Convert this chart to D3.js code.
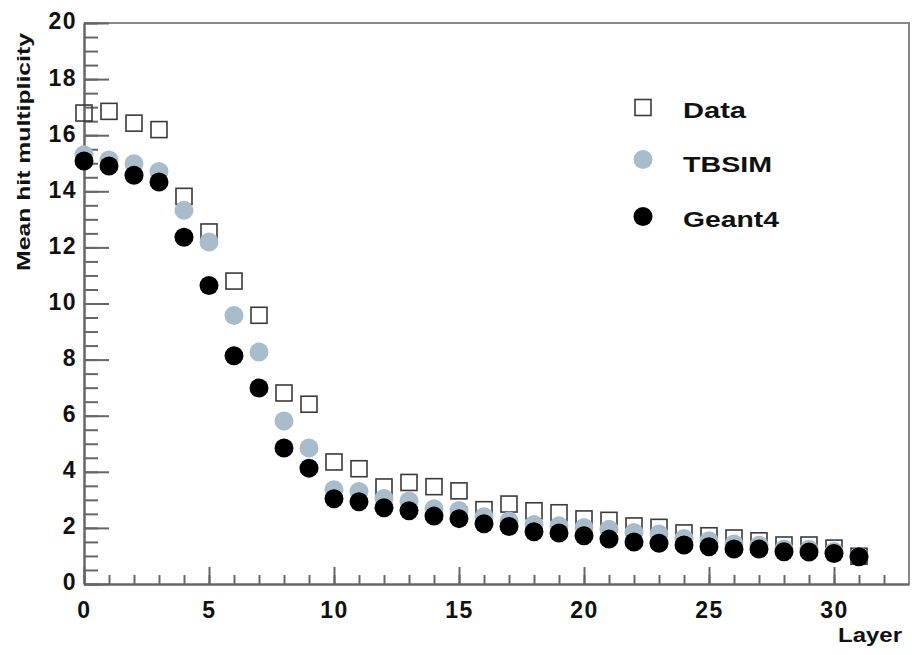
<!DOCTYPE html>
<html>
<head>
<meta charset="utf-8">
<script src="https://cdn.jsdelivr.net/npm/d3@7/dist/d3.min.js"></script>
<style>
  html, body { margin: 0; padding: 0; background: #fff; }
  svg { display: block; }
  .tick text { font-family: "Liberation Sans", Arial, Helvetica, sans-serif; font-weight: bold; }
</style>
</head>
<body>
<svg id="chart" width="912" height="655"></svg>
<script>
// Layer index 0..31
const layers = d3.range(32);

// Mean hit multiplicity per layer
const dataValues = [16.79, 16.85, 16.43, 16.20, 13.82, 12.55, 10.80, 9.58, 6.81, 6.41,
  4.35, 4.11, 3.46, 3.62, 3.47, 3.32, 2.65, 2.85, 2.61, 2.54,
  2.32, 2.27, 2.07, 2.02, 1.82, 1.72, 1.64, 1.54, 1.39, 1.39, 1.28, 0.99];

const tbsimValues = [15.30, 15.12, 14.98, 14.71, 13.32, 12.19, 9.57, 8.27, 5.81, 4.85,
  3.36, 3.30, 3.05, 2.96, 2.68, 2.62, 2.40, 2.25, 2.12, 2.08,
  2.01, 1.95, 1.84, 1.78, 1.62, 1.54, 1.43, 1.38, 1.25, 1.24, 1.16, 0.99];

const geant4Values = [15.08, 14.90, 14.57, 14.33, 12.36, 10.64, 8.14, 6.99, 4.85, 4.13,
  3.04, 2.93, 2.72, 2.61, 2.42, 2.33, 2.15, 2.05, 1.86, 1.82,
  1.72, 1.60, 1.50, 1.45, 1.39, 1.33, 1.25, 1.25, 1.15, 1.14, 1.09, 0.97];

const seriesNames = ["Data", "TBSIM", "Geant4"];

const xMajorTicks = [0, 5, 10, 15, 20, 25, 30];
const xMinorTicks = d3.range(0, 33, 1);
const yMajorTicks = [0, 2, 4, 6, 8, 10, 12, 14, 16, 18, 20];
const yMinorTicks = d3.range(0, 20.01, 0.5);

const svg = d3.select("#chart");
const frame = { left: 84, right: 909, top: 23, bottom: 584 };

const x = d3.scaleLinear().domain([0, 33]).range([frame.left, frame.right]);
const y = d3.scaleLinear().domain([0, 20]).range([frame.bottom, frame.top]);

const axisColor = "#666";
const fontFam = '"Liberation Sans", Arial, Helvetica, sans-serif';

// Frame: top and right edges
svg.append("path")
  .attr("d", `M${frame.left},${frame.top}H${frame.right}V${frame.bottom}`)
  .attr("fill", "none")
  .attr("stroke", "#888")
  .attr("stroke-width", 2);

// Y axis minor ticks
const yMinor = svg.append("g")
  .attr("transform", `translate(${frame.left},0)`)
  .call(d3.axisLeft(y).tickValues(yMinorTicks).tickSize(-14).tickSizeOuter(0).tickFormat(""));
// Y axis major ticks with labels
const yMajor = svg.append("g")
  .attr("transform", `translate(${frame.left},0)`)
  .call(d3.axisLeft(y).tickValues(yMajorTicks).tickSize(-25).tickSizeOuter(0).tickPadding(7));

// X axis minor ticks
const xMinor = svg.append("g")
  .attr("transform", `translate(0,${frame.bottom})`)
  .call(d3.axisBottom(x).tickValues(xMinorTicks).tickSize(-9).tickSizeOuter(0).tickFormat(""));
// X axis major ticks with labels
const xMajor = svg.append("g")
  .attr("transform", `translate(0,${frame.bottom})`)
  .call(d3.axisBottom(x).tickValues(xMajorTicks).tickSize(-17).tickSizeOuter(0).tickPadding(18));

[yMinor, yMajor, xMinor, xMajor].forEach(g => {
  g.selectAll(".domain").attr("stroke", axisColor).attr("stroke-width", 2);
  g.selectAll(".tick line").attr("stroke", axisColor).attr("stroke-width", 2);
});
[yMajor, xMajor].forEach(g => {
  g.selectAll(".tick text")
    .attr("fill", "#111")
    .style("font-size", "23px")
    .style("letter-spacing", "1.5px");
});
yMajor.selectAll(".tick text").attr("dy", "0.26em");

// Axis titles
svg.append("text")
  .attr("x", 902).attr("y", 642)
  .attr("text-anchor", "end")
  .attr("textLength", 64)
  .attr("lengthAdjust", "spacingAndGlyphs")
  .style("font-family", fontFam).style("font-weight", "bold").style("font-size", "20px")
  .attr("fill", "#111")
  .text("Layer");

svg.append("text")
  .attr("transform", "translate(30,152) rotate(-90)")
  .attr("text-anchor", "middle")
  .attr("textLength", 238)
  .attr("lengthAdjust", "spacingAndGlyphs")
  .style("font-family", fontFam).style("font-weight", "bold").style("font-size", "18px")
  .attr("fill", "#111")
  .text("Mean hit multiplicity");

// Markers
const sq = 16;
const rad = 9.5;
const tbsimColor = "#a9bccb";

const plot = svg.append("g");

plot.selectAll("rect.data")
  .data(layers)
  .join("rect")
  .attr("class", "data")
  .attr("x", i => x(i) - sq / 2)
  .attr("y", i => y(dataValues[i]) - sq / 2)
  .attr("width", sq).attr("height", sq)
  .attr("fill", "none")
  .attr("stroke", "#3a3a3a")
  .attr("stroke-width", 1.6);

plot.selectAll("circle.tbsim")
  .data(layers)
  .join("circle")
  .attr("class", "tbsim")
  .attr("cx", i => x(i))
  .attr("cy", i => y(tbsimValues[i]))
  .attr("r", rad)
  .attr("fill", tbsimColor);

plot.selectAll("circle.geant4")
  .data(layers)
  .join("circle")
  .attr("class", "geant4")
  .attr("cx", i => x(i))
  .attr("cy", i => y(geant4Values[i]))
  .attr("r", rad)
  .attr("fill", "#000");

// Legend
const legendRows = [
  { name: seriesNames[0], my: 107.5, ty: 117.5, len: 63 },
  { name: seriesNames[1], my: 159.5, ty: 171.5, len: 89 },
  { name: seriesNames[2], my: 216.5, ty: 227, len: 96 }
];
const legend = svg.append("g");
legend.append("rect")
  .attr("x", 643 - sq / 2).attr("y", legendRows[0].my - sq / 2)
  .attr("width", sq).attr("height", sq)
  .attr("fill", "none").attr("stroke", "#3a3a3a").attr("stroke-width", 1.6);
legend.append("circle")
  .attr("cx", 643).attr("cy", legendRows[1].my).attr("r", rad).attr("fill", tbsimColor);
legend.append("circle")
  .attr("cx", 643).attr("cy", legendRows[2].my).attr("r", rad).attr("fill", "#000");
legend.selectAll("text")
  .data(legendRows)
  .join("text")
  .attr("x", 683)
  .attr("y", d => d.ty)
  .attr("textLength", d => d.len)
  .attr("lengthAdjust", "spacingAndGlyphs")
  .style("font-family", fontFam).style("font-weight", "bold").style("font-size", "22px")
  .attr("fill", "#111")
  .text(d => d.name);
</script>
</body>
</html>
